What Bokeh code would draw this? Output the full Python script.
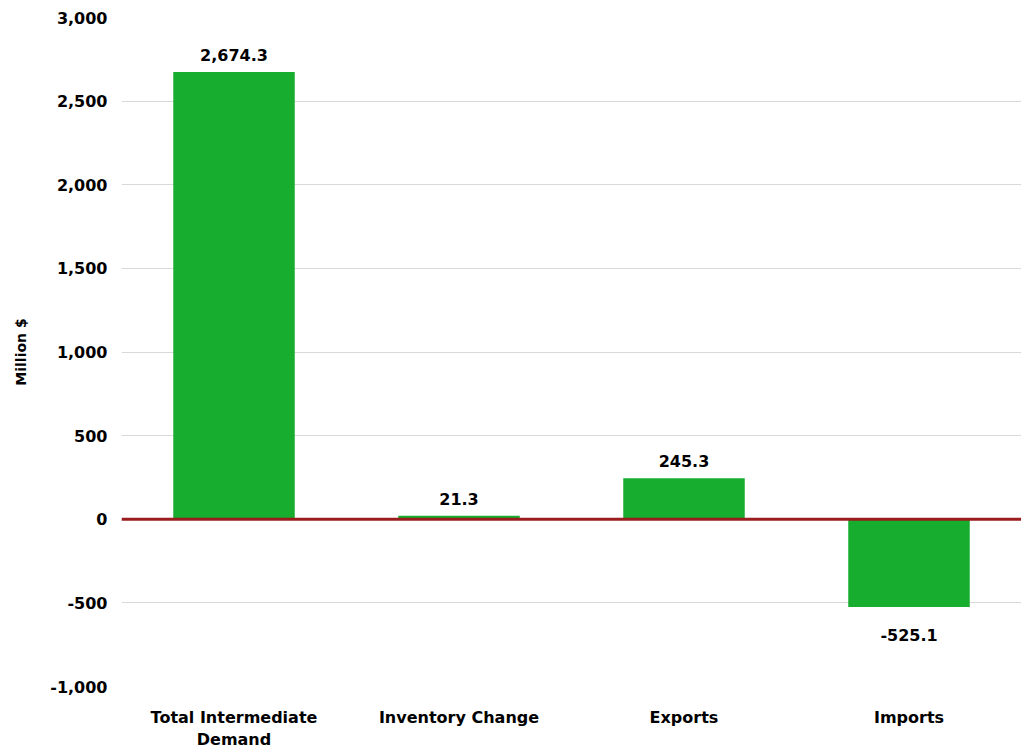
from bokeh.plotting import figure
from bokeh.models import ColumnDataSource, Span, FixedTicker, NumeralTickFormatter, Range1d
from bokeh.core.properties import value
from bokeh.embed import file_html
from bokeh.resources import INLINE

categories = ["Total Intermediate\nDemand", "Inventory Change", "Exports", "Imports"]
values = [2674.3, 21.3, 245.3, -525.1]
y_ticks = [-1000, -500, 0, 500, 1000, 1500, 2000, 2500, 3000]

FONT = "DejaVu Sans"
xs = [i + 0.5 for i in range(len(categories))]

pos = ColumnDataSource(dict(x=[x for x, v in zip(xs, values) if v >= 0],
                            y=[v for v in values if v >= 0],
                            label=[f"{v:,.1f}" for v in values if v >= 0]))
neg = ColumnDataSource(dict(x=[x for x, v in zip(xs, values) if v < 0],
                            y=[v for v in values if v < 0],
                            label=[f"{v:,.1f}" for v in values if v < 0]))
bars = ColumnDataSource(dict(x=xs, top=values))

p = figure(width=1021, height=755, output_backend="svg", toolbar_location=None,
           x_range=Range1d(0, len(categories)), y_range=Range1d(-1000, 3000),
           min_border_left=121, min_border_right=0, min_border_top=17, min_border_bottom=69)
p.outline_line_color = None
p.background_fill_color = "white"
p.border_fill_color = "white"

p.vbar(x="x", top="top", bottom=0, width=0.54, source=bars, color="#17AD2F", line_color=None)

zero = Span(location=0, dimension="width", line_color="#9B1C1C", line_width=3, level="overlay")
p.add_layout(zero)

common = dict(text="label", text_align="center", text_font_size="16px",
              text_font_style="bold", text_font=value(FONT), text_color="black")
p.text(x="x", y="y", source=pos, text_baseline="bottom", y_offset=-11, **common)
p.text(x="x", y="y", source=neg, text_baseline="top", y_offset=22, **common)

p.yaxis.ticker = FixedTicker(ticks=y_ticks)
p.yaxis.formatter = NumeralTickFormatter(format="0,0")
p.yaxis.axis_line_color = None
p.yaxis.major_tick_line_color = None
p.yaxis.minor_tick_line_color = None
p.yaxis.major_label_text_font = FONT
p.yaxis.major_label_text_font_style = "bold"
p.yaxis.major_label_text_font_size = "16px"
p.yaxis.major_label_text_color = "black"
p.yaxis.major_label_standoff = 8
p.yaxis.axis_label = "Million $"
p.yaxis.axis_label_text_font = FONT
p.yaxis.axis_label_text_font_style = "bold"
p.yaxis.axis_label_text_font_size = "14px"
p.yaxis.axis_label_text_color = "black"
p.yaxis.axis_label_standoff = 18

p.xaxis.ticker = FixedTicker(ticks=xs)
p.xaxis.major_label_overrides = {x: c for x, c in zip(xs, categories)}
p.xaxis.axis_line_color = None
p.xaxis.major_tick_line_color = None
p.xaxis.minor_tick_line_color = None
p.xaxis.major_label_text_font = FONT
p.xaxis.major_label_text_font_style = "bold"
p.xaxis.major_label_text_font_size = "16px"
p.xaxis.major_label_text_color = "black"
p.xaxis.major_label_standoff = 15

p.xgrid.grid_line_color = None
p.ygrid.grid_line_color = "#D9D9D9"
p.ygrid.grid_line_width = 1

open("out.html", "w").write(file_html(p, INLINE))
